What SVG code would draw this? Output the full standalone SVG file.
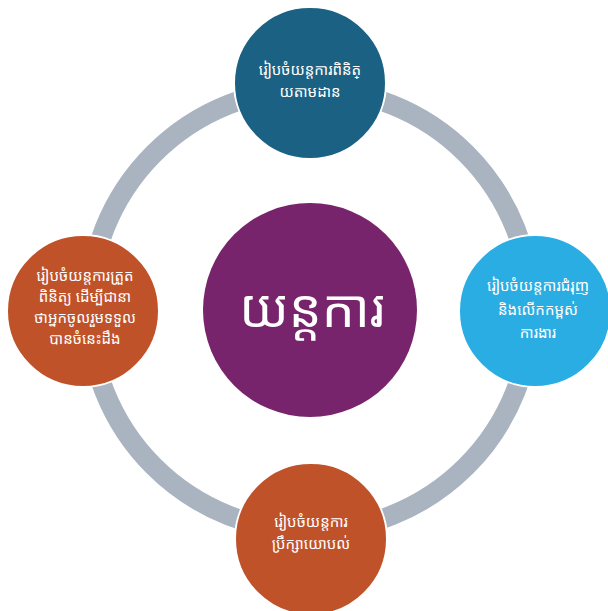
<svg xmlns="http://www.w3.org/2000/svg" width="608" height="611" viewBox="0 0 608 611">
<style>
.node{stroke:#fff;stroke-width:2}
.t{fill:#fff;font-family:"Noto Sans Khmer","Khmer OS","Noto Sans","DejaVu Sans",sans-serif;font-size:15px;text-anchor:middle}
.big{font-size:52px}
</style>
<rect width="608" height="611" fill="#fff"/>
<g id="connectors">
<circle cx="310" cy="310" r="221" fill="none" stroke="#A9B4C0" stroke-width="20"/>
</g>
<g id="center">
<circle cx="310" cy="310" r="107" fill="#78246C"/>
<text class="t big" x="312" y="327">យន្តការ</text>
</g>
<g id="top">
<circle class="node" cx="310" cy="83" r="76" fill="#1A6183"/>
<text class="t" x="310" y="75">រៀបចំយន្តការពិនិត្</text>
<text class="t" x="310" y="97">យតាមដាន</text>
</g>
<g id="right">
<circle class="node" cx="535" cy="311" r="76" fill="#29ADE3"/>
<text class="t" x="538" y="291">រៀបចំយន្តការជំរុញ</text>
<text class="t" x="538" y="315">និងលើកកម្ពស់</text>
<text class="t" x="538" y="338">ការងារ</text>
</g>
<g id="left">
<circle class="node" cx="83" cy="311" r="76" fill="#C0522A"/>
<text class="t" x="85" y="281">រៀបចំយន្តការត្រួត</text>
<text class="t" x="85" y="302">ពិនិត្យ ដើម្បីជានា</text>
<text class="t" x="85" y="323">ថាអ្នកចូលរួមទទួល</text>
<text class="t" x="85" y="344">បានចំនេះដឹង</text>
</g>
<g id="bottom">
<circle class="node" cx="311" cy="539" r="76" fill="#C0522A"/>
<text class="t" x="311" y="527">រៀបចំយន្តការ</text>
<text class="t" x="311" y="549">ប្រឹក្សាយោបល់</text>
</g>
</svg>
